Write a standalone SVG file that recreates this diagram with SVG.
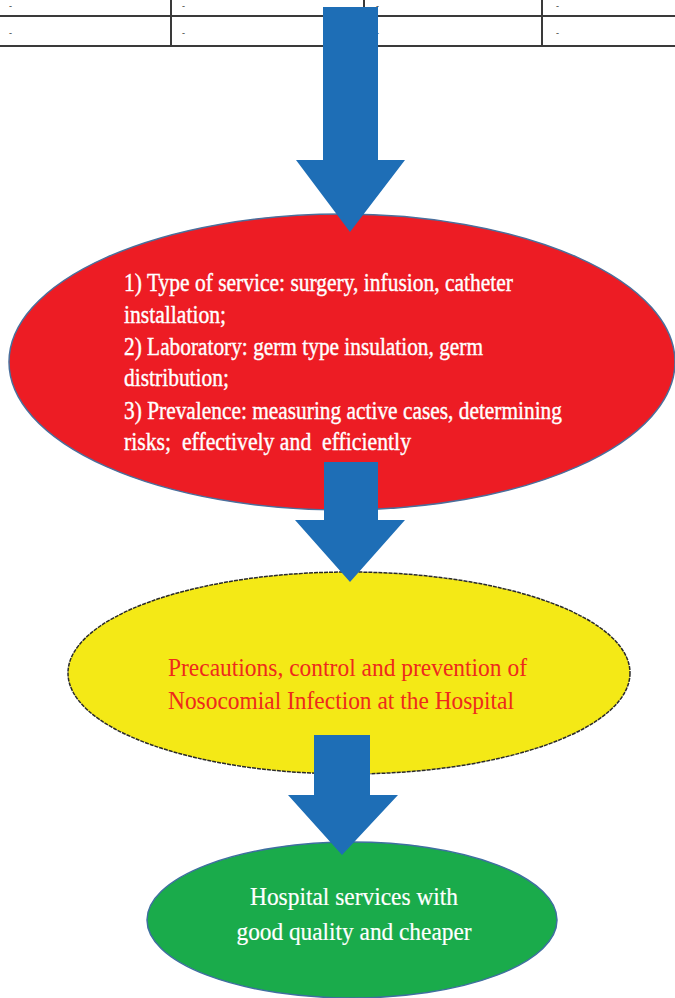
<svg xmlns="http://www.w3.org/2000/svg" width="675" height="998" viewBox="0 0 675 998">
  <style>
    .grid { stroke: #3a3a3a; stroke-width: 2; fill: none; }
    .cell { font-family: "Liberation Serif", "Times New Roman", serif; font-size: 9px; fill: #222; }
    text.serif { font-family: "Liberation Serif", "Times New Roman", serif; }
    text.red-text { font-size: 25px; fill: #ffffff; stroke: #ffffff; stroke-width: 0.4; }
    text.yellow-text { font-size: 26px; fill: #ee2a1c; }
    text.green-text { font-size: 26px; fill: #ffffff; stroke: #ffffff; stroke-width: 0.2; text-anchor: middle; }
    .arrow { fill: #1e6eb6; }
  </style>

  <!-- table fragment at the top of the page -->
  <g id="table">
    <line class="grid" x1="0" y1="16" x2="675" y2="16"/>
    <line class="grid" x1="0" y1="46" x2="675" y2="46"/>
    <line class="grid" x1="171" y1="0" x2="171" y2="46"/>
    <line class="grid" x1="364" y1="0" x2="364" y2="46"/>
    <line class="grid" x1="542" y1="0" x2="542" y2="46"/>
    <text class="cell" x="9" y="9">-</text>
    <text class="cell" x="182" y="9">-</text>
    <text class="cell" x="376" y="9">-</text>
    <text class="cell" x="556" y="9">-</text>
    <text class="cell" x="9" y="36">-</text>
    <text class="cell" x="182" y="36">-</text>
    <text class="cell" x="376" y="36">-</text>
    <text class="cell" x="556" y="36">-</text>
  </g>

  <!-- node: surveillance components -->
  <g id="node-surveillance">
    <ellipse cx="342" cy="362" rx="333" ry="148" fill="#ed1c24" stroke="#4a6f9c" stroke-width="1.5"/>
    <text class="serif red-text" x="124" y="291" textLength="389" lengthAdjust="spacingAndGlyphs">1) Type of service: surgery, infusion, catheter</text>
    <text class="serif red-text" x="124" y="323" textLength="102" lengthAdjust="spacingAndGlyphs">installation;</text>
    <text class="serif red-text" x="124" y="355" textLength="359" lengthAdjust="spacingAndGlyphs">2) Laboratory: germ type insulation, germ</text>
    <text class="serif red-text" x="124" y="386" textLength="105" lengthAdjust="spacingAndGlyphs">distribution;</text>
    <text class="serif red-text" x="124" y="419" textLength="438" lengthAdjust="spacingAndGlyphs">3) Prevalence: measuring active cases, determining</text>
    <text class="serif red-text" x="124" y="450" textLength="287" lengthAdjust="spacingAndGlyphs" xml:space="preserve">risks;  effectively and  efficiently</text>
  </g>

  <!-- node: precautions -->
  <g id="node-precautions">
    <ellipse cx="349" cy="673" rx="281" ry="101" fill="#f4e916" stroke="#2a2a2a" stroke-width="1.5" stroke-dasharray="4 1"/>
    <text class="serif yellow-text" x="168" y="676" textLength="359" lengthAdjust="spacingAndGlyphs">Precautions, control and prevention of</text>
    <text class="serif yellow-text" x="168" y="709" textLength="346" lengthAdjust="spacingAndGlyphs">Nosocomial Infection at the Hospital</text>
  </g>

  <!-- node: outcome -->
  <g id="node-outcome">
    <ellipse cx="352" cy="920" rx="205" ry="78" fill="#1aab4b" stroke="#3f6fa0" stroke-width="1.5"/>
    <text class="serif green-text" x="354" y="905" textLength="208" lengthAdjust="spacingAndGlyphs">Hospital services with</text>
    <text class="serif green-text" x="354" y="940" textLength="235" lengthAdjust="spacingAndGlyphs">good quality and cheaper</text>
  </g>

  <!-- block arrows between stages -->
  <g id="connectors">
    <polygon class="arrow" points="323,7 378,7 378,160 405,160 350,232 296,160 323,160"/>
    <polygon class="arrow" points="324,462 378,462 378,520 405,520 350,582 295,520 324,520"/>
    <polygon class="arrow" points="314,735 370,735 370,795 398,795 342,855 288,795 314,795"/>
  </g>
</svg>
